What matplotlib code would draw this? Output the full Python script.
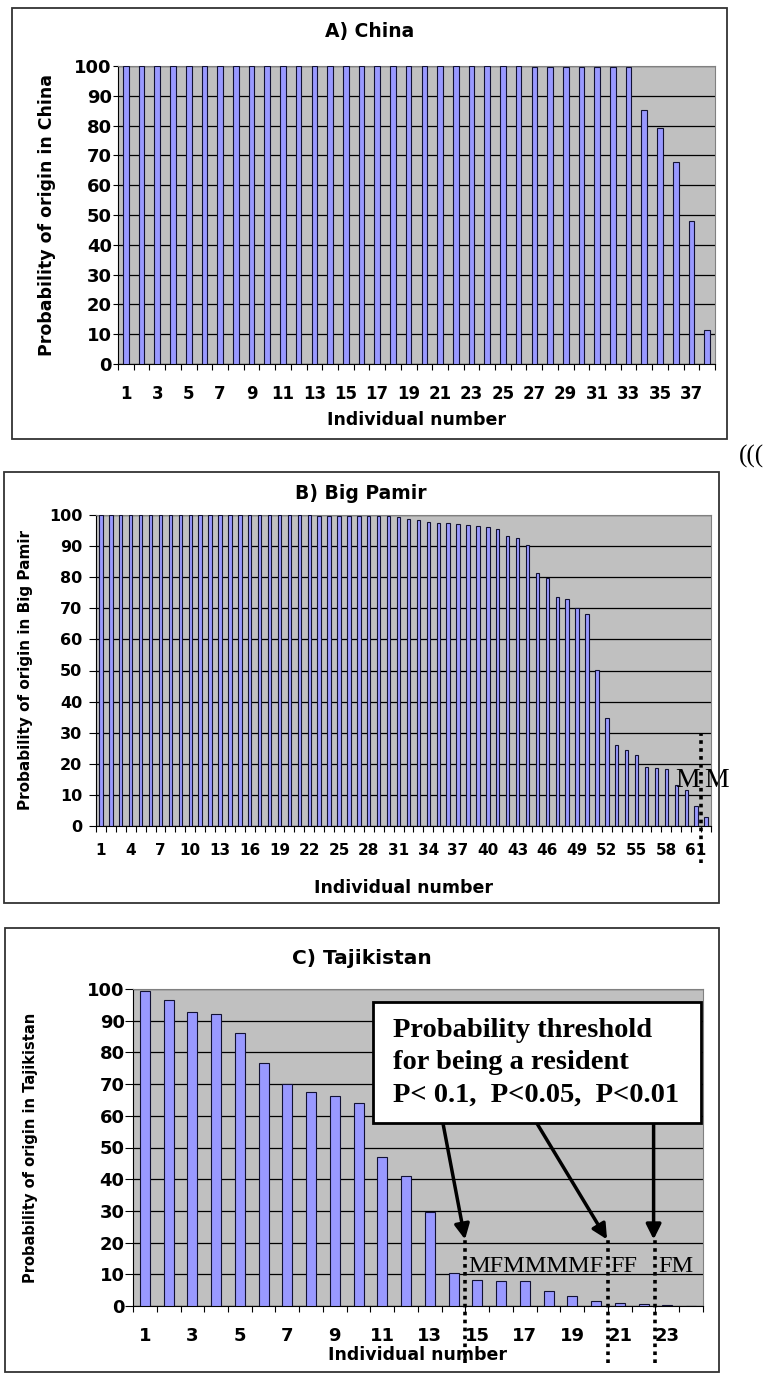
import matplotlib
matplotlib.use("Agg")
import matplotlib.pyplot as plt
from matplotlib.patches import Rectangle
from matplotlib.ticker import FixedLocator
import numpy as np

W, H = 772, 1378
SANS = ["DejaVu Sans"]
SERIF = ["Liberation Serif", "DejaVu Serif"]

# A) China - 38 individuals
china = [100, 100, 100, 100, 100, 100, 100, 100, 100, 100,
         100, 100, 100, 100, 100, 100, 100, 100, 100, 100,
         100, 100, 100, 100, 100, 100, 99.6, 99.6, 99.6, 99.6,
         99.6, 99.6, 99.6, 85.3, 79.3, 67.9, 48.0, 11.4]

# B) Big Pamir - 62 individuals
pamir = [100, 100, 100, 100, 100, 100, 100, 100, 100, 100,
         100, 100, 100, 100, 100, 100, 100, 100, 100, 100,
         100, 100, 99.8, 99.8, 99.8, 99.8, 99.8, 99.8, 99.8, 99.8,
         99.5, 98.7, 98.4, 97.7, 97.5, 97.3, 97.1, 96.8, 96.4, 96.1,
         95.4, 93.3, 92.5, 90.5, 81.5, 79.7, 73.6, 73.0, 70.2, 68.3,
         50.1, 34.8, 26.1, 24.5, 22.9, 18.9, 18.8, 18.2, 13.2, 11.5,
         6.5, 2.8]

# C) Tajikistan - 24 individuals
tajik = [99.3, 96.5, 92.6, 92.0, 86.1, 76.8, 70.0, 67.4, 66.4, 64.0,
         46.9, 41.0, 29.5, 10.5, 8.1, 7.8, 7.8, 4.8, 3.2, 1.7,
         0.8, 0.5, 0.2, 0.1]

yticks = list(range(0, 101, 10))
tick_a = list(range(1, 38, 2))
tick_b = list(range(1, 62, 3))
tick_c = list(range(1, 24, 2))

# thresholds (between individuals) and sex of individuals beyond them
thr_b = [61.5]
thr_c = [14.5, 20.5, 22.5]
sex_c = ["MFMMMMF", "FF", "FM"]
note_c = ["Probability threshold", "for being a resident", "P< 0.1,  P<0.05,  P<0.01"]


def rect(l, t, r, b):
    return [l / W, 1 - b / H, (r - l) / W, (b - t) / H]


def frame(fig, l, t, r, b):
    fig.patches.append(Rectangle((l / W, 1 - b / H), (r - l) / W, (b - t) / H,
                                 transform=fig.transFigure, fill=False,
                                 edgecolor="#333333", linewidth=1.3))


def panel(fig, box, vals, ticks, ylab, fs, xfs, ylfs, xlfs, bw, pad, ytick, ylab_x, xlab_y):
    l, t, r, b = box
    ax = fig.add_axes(rect(*box))
    x = np.arange(1, len(vals) + 1)
    ax.bar(x, vals, width=bw, color="#9999FF", edgecolor="#111133", linewidth=0.8, zorder=3)
    ax.set_facecolor("#C0C0C0")
    ax.set_xlim(0.5, len(vals) + 0.5)
    ax.set_ylim(0, 100)
    ax.set_yticks(yticks)
    ax.yaxis.grid(True, color="black", linewidth=0.9, zorder=1)
    ax.set_axisbelow(True)
    ax.set_xticks(ticks)
    ax.xaxis.set_minor_locator(FixedLocator(np.arange(0.5, len(vals) + 1, 1)))
    ax.tick_params(axis="x", which="major", length=0, pad=pad)
    ax.tick_params(axis="x", which="minor", length=4, direction="out", width=0.8)
    ax.tick_params(axis="y", length=ytick[0], direction="out", width=0.8, pad=ytick[1])
    for lab in ax.get_xticklabels():
        lab.set_fontfamily(SANS)
        lab.set_fontweight("bold")
        lab.set_fontsize(xfs)
    for lab in ax.get_yticklabels():
        lab.set_fontfamily(SANS)
        lab.set_fontweight("bold")
        lab.set_fontsize(fs)
    for s in ["top", "right"]:
        ax.spines[s].set_color("#808080")
    for s in ["left", "bottom"]:
        ax.spines[s].set_color("black")
    ax.set_ylabel(ylab, fontfamily=SANS, fontweight="bold", fontsize=ylfs, va="center")
    ax.yaxis.set_label_coords((ylab_x - l) / (r - l), 0.5)
    ax.set_xlabel("Individual number", fontfamily=SANS, fontweight="bold", fontsize=xlfs, va="center")
    ax.xaxis.set_label_coords(0.5, (b - xlab_y) / (b - t))
    return ax


fig = plt.figure(figsize=(W / 100, H / 100), dpi=100)

# ---- A) China
frame(fig, 12, 8, 727, 439)
axA = panel(fig, (118, 66, 715, 364), china, tick_a, "Probability of origin in China",
            13, 12, 12.5, 12.5, 0.36, 15, (3.5, 1), 47, 420)
fig.text(370 / W, 1 - 32 / H, "A) China", ha="center", va="center",
         fontfamily=SANS, fontweight="bold", fontsize=13.5)
fig.text(739 / W, 1 - 456 / H, "(((", ha="left", va="center", fontfamily=SERIF, fontsize=18)

# ---- B) Big Pamir
frame(fig, 4, 472, 719, 903)
axB = panel(fig, (96, 515, 711, 826), pamir, tick_b, "Probability of origin in Big Pamir",
            11.5, 11, 11, 12.5, 0.34, 12, (5, 5), 26, 888)
fig.text(361 / W, 1 - 494 / H, "B) Big Pamir", ha="center", va="center",
         fontfamily=SANS, fontweight="bold", fontsize=13.5)
for t in thr_b:
    axB.plot([t, t], [-12, 29.5], color="black", linestyle=(0, (1, 1.2)), linewidth=2.6,
             clip_on=False, zorder=5)
    axB.text(t - 0.1, 14.6, "M", ha="right", va="center", fontfamily=SERIF, fontsize=20, zorder=6)
    axB.text(t + 0.35, 14.6, "M", ha="left", va="center", fontfamily=SERIF, fontsize=20,
             clip_on=False, zorder=6)

# ---- C) Tajikistan
frame(fig, 5, 928, 719, 1372)
axC = panel(fig, (133, 989, 703, 1306), tajik, tick_c, "Probability of origin in Tajikistan",
            13, 13, 10.5, 12.5, 0.42, 15, (5.5, 0.5), 30, 1355)
fig.text(362 / W, 1 - 959 / H, "C) Tajikistan", ha="center", va="center",
         fontfamily=SANS, fontweight="bold", fontsize=14.5)

for t, s in zip(thr_c, sex_c):
    axC.plot([t, t], [-18, 21], color="black", linestyle=(0, (1, 1.2)), linewidth=2.6,
             clip_on=False, zorder=5)
    axC.text(t + 0.1, 12.4, s, ha="left", va="center", fontfamily=SERIF, fontsize=17.5, zorder=6)

axC.add_patch(Rectangle((10.6, 57.7), 13.8, 38.2, facecolor="white", edgecolor="black",
                        linewidth=2, zorder=7))
for yy, line in zip([87.0, 76.7, 66.5], note_c):
    axC.text(11.45, yy, line, ha="left", va="center", fontfamily=SERIF, fontweight="bold",
             fontsize=20.5, zorder=8)

arrows = [((13.55, 57.7), (14.48, 21.0)), ((17.5, 57.7), (20.46, 21.0)), ((22.42, 57.7), (22.42, 21.0))]
for start, end in arrows:
    axC.annotate("", xy=end, xytext=start,
                 arrowprops=dict(arrowstyle="-|>,head_length=0.9,head_width=0.45",
                                 color="black", linewidth=2.5, shrinkA=0, shrinkB=0),
                 zorder=6)

fig.savefig("out.png", dpi=100)
